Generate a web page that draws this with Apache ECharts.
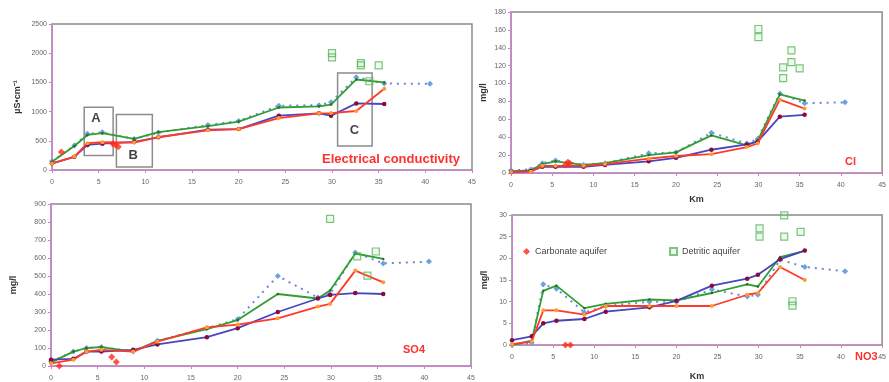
<!DOCTYPE html>
<html>
<head>
<meta charset="utf-8">
<script src="https://cdn.jsdelivr.net/npm/echarts@6/dist/echarts.min.js"></script>
<style>html,body{margin:0;padding:0;background:#fff}#c{width:889px;height:382px}</style>
</head>
<body>
<div id="c"></div>
<script>
// Station distances (km)
var stations = [0, 2.4, 3.8, 5.4, 8.8, 11.4, 16.7, 20, 24.3, 28.6, 29.9, 32.6, 35.6];
var stationsDotted = [0, 2.4, 3.8, 5.4, 8.8, 11.4, 16.7, 20, 24.3, 28.6, 29.9, 32.6, 35.6, 40.5];
var xTicks = [0, 5, 10, 15, 20, 25, 30, 35, 40, 45];

// Electrical conductivity (uS/cm)
var ecBlue   = [115, 225, 430, 450, 480, 560, 690, 700, 930, 970, 930, 1140, 1130];
var ecRed    = [110, 230, 460, 475, 470, 565, 680, 700, 890, 970, 975, 1010, 1390];
var ecGreen  = [140, 410, 600, 630, 534, 650, 750, 830, 1070, 1090, 1120, 1550, 1500];
var ecDotted = [150, 420, 620, 645, 530, 640, 770, 840, 1100, 1110, 1160, 1590, 1480, 1475];
var ecCarb   = [[1.0, 310], [6.5, 450], [6.8, 430], [7.1, 400]];
var ecDetr   = [[30.0, 2000], [30.0, 1930], [33.1, 1830], [33.1, 1790], [35.0, 1790], [34.0, 1520]];
var ecBoxes  = [['A', 3.45, 250, 6.55, 1075], ['B', 6.9, 50, 10.75, 950], ['C', 30.6, 410, 34.3, 1660]];
var ecBoxLabels = [['A', 4.7, 890], ['B', 8.7, 250], ['C', 32.4, 680]];

// Cl (mg/l)
var clBlue   = [1, 2, 7, 7, 7, 9, 13, 17, 26, 32, 35, 63, 65];
var clRed    = [1, 1.5, 8, 8, 8, 10, 16, 19, 21, 29, 33, 82, 72];
var clGreen  = [2, 3, 10, 13, 9, 11, 20, 23, 42, 31, 36, 88, 81];
var clDotted = [3, 4, 11, 14, 9, 11, 22, 23, 45, 33, 38, 89, 78, 79];
var clCarb   = [[6.6, 9], [6.9, 12], [7.1, 11]];
var clDetr   = [[30.0, 161], [30.0, 152], [33.0, 118], [33.0, 106], [34.0, 137], [34.0, 124], [35.0, 117]];

// SO4 (mg/l)
var soBlue   = [35, 40, 80, 80, 90, 120, 160, 210, 300, 375, 395, 405, 400];
var soRed    = [15, 35, 80, 90, 80, 135, 215, 230, 265, 330, 345, 530, 465];
var soGreen  = [20, 80, 100, 105, 80, 140, 205, 255, 400, 375, 420, 625, 595];
var soDotted = [25, 80, 100, 105, 80, 140, 210, 260, 500, 380, 400, 630, 570, 580];
var soCarb   = [[0.9, 0], [6.5, 50], [7.0, 22]];
var soDetr   = [[29.9, 817], [32.8, 609], [33.9, 502], [34.8, 636]];

// NO3 (mg/l)
var noBlue   = [1.1, 2, 5, 5.6, 6, 7.7, 8.7, 10.2, 13.7, 15.3, 16.2, 19.8, 21.8];
var noRed    = [0.2, 0.8, 8, 8, 7, 9, 9, 9, 9, 11.6, 12, 18, 15];
var noGreen  = [0, 1, 12.5, 13.7, 8.5, 9.5, 10.5, 10.3, 12, 14, 13.5, 20.3, 21.7];
var noDotted = [0, 0.5, 14, 13, 7.5, 9, 10, 10, 12.8, 11.2, 11.6, 19.7, 18, 17];
var noCarb   = [[6.5, 0], [7.1, 0]];
var noDetr   = [[30.1, 26.9], [30.1, 25], [33.1, 29.9], [33.1, 25], [35.1, 26.1], [34.1, 10.1], [34.1, 9.1]];

function pairs(xs, ys) { return ys.map(function (v, i) { return [xs[i], v]; }); }

var chart = echarts.init(document.getElementById('c'), null, {renderer: 'canvas'});

var grids = [
  {left: 52, top: 24, width: 420, height: 146},
  {left: 511, top: 12, width: 377, height: 161},
  {left: 51, top: 204, width: 420, height: 163},
  {left: 512, top: 215, width: 377, height: 152}
];
grids.forEach(function (g) { g.show = true; g.borderColor = '#8a8a8a'; g.borderWidth = 1.5; g.backgroundColor = 'transparent'; });

var pink = '#d77ad7';
var labelStyle = {fontSize: 7, color: '#666', fontFamily: 'Liberation Sans, Arial', formatter: function (v) { return String(v); }};
function xAx(i, name, gap) {
  return {
    type: 'value', gridIndex: i, min: xTicks[0], max: xTicks[xTicks.length - 1], interval: 5,
    axisLine: {show: true, lineStyle: {color: pink, width: 1}},
    axisTick: {show: true, length: 3, lineStyle: {color: pink}},
    axisLabel: Object.assign({margin: 9, showMaxLabel: true}, labelStyle),
    splitLine: {show: false},
    name: name || '', nameLocation: 'middle', nameGap: gap || 20,
    nameTextStyle: {fontSize: 9, fontWeight: 'bold', color: '#333', fontFamily: 'Liberation Sans, Arial'}
  };
}
function yAx(i, max, interval, name, gap) {
  return {
    type: 'value', gridIndex: i, min: 0, max: max, interval: interval,
    axisLine: {show: true, lineStyle: {color: pink, width: 1}},
    axisTick: {show: true, length: 3, lineStyle: {color: pink}},
    axisLabel: Object.assign({margin: 5}, labelStyle),
    splitLine: {show: false},
    name: name, nameLocation: 'middle', nameGap: gap, nameRotate: 90,
    nameTextStyle: {fontSize: 9, fontWeight: 'bold', color: '#333', fontFamily: 'Liberation Sans, Arial'}
  };
}

var cBlue = '#4646c0', cMaroon = '#8a0a3a', cRed = '#ff3a2a', cOrange = '#ff9a30',
    cGreen = '#2f9f2f', cDot = '#6f86d6', cDiam = '#6aa2e0', cDetr = '#5cb85c', cCarb = '#ff2a1a';

var series = [];
function addPanel(i, blue, red, green, dotted, carb, detr) {
  series.push({type: 'line', xAxisIndex: i, yAxisIndex: i, data: pairs(stationsDotted, dotted), z: 2,
    lineStyle: {color: cDot, width: 2, type: [2, 5]}, symbol: 'diamond', symbolSize: 6,
    itemStyle: {color: cDiam}, silent: true});
  series.push({type: 'line', xAxisIndex: i, yAxisIndex: i, data: pairs(stations, green), z: 3,
    lineStyle: {color: cGreen, width: 1.8}, symbol: 'circle', symbolSize: 2.5,
    itemStyle: {color: '#2a6a2a'}, silent: true});
  series.push({type: 'line', xAxisIndex: i, yAxisIndex: i, data: pairs(stations, blue), z: 4,
    lineStyle: {color: cBlue, width: 1.8}, symbol: 'circle', symbolSize: 4.5,
    itemStyle: {color: cMaroon}, silent: true});
  series.push({type: 'line', xAxisIndex: i, yAxisIndex: i, data: pairs(stations, red), z: 5,
    lineStyle: {color: cRed, width: 1.8}, symbol: 'circle', symbolSize: 4,
    itemStyle: {color: cOrange}, silent: true});
  series.push({name: 'Carbonate aquifer', type: 'scatter', xAxisIndex: i, yAxisIndex: i, data: carb, z: 6,
    symbol: 'diamond', symbolSize: 7, itemStyle: {color: cCarb}, silent: true});
  series.push({name: 'Detritic aquifer', type: 'scatter', xAxisIndex: i, yAxisIndex: i, data: detr, z: 6,
    symbol: 'rect', symbolSize: 7, itemStyle: {color: 'rgba(120,200,120,0.15)', borderColor: cDetr, borderWidth: 1.2}, silent: true});
}
addPanel(0, ecBlue, ecRed, ecGreen, ecDotted, ecCarb, ecDetr);
addPanel(1, clBlue, clRed, clGreen, clDotted, clCarb, clDetr);
addPanel(2, soBlue, soRed, soGreen, soDotted, soCarb, soDetr);
addPanel(3, noBlue, noRed, noGreen, noDotted, noCarb, noDetr);

// Boxes A, B, C on the conductivity panel
series.push({type: 'line', xAxisIndex: 0, yAxisIndex: 0, data: [], silent: true,
  markArea: {silent: true,
    itemStyle: {color: 'rgba(0,0,0,0)', borderColor: '#8c8c8c', borderWidth: 1.5},
    label: {show: false},
    data: ecBoxes.map(function (b) { return [{coord: [b[1], b[2]]}, {coord: [b[3], b[4]]}]; })
  }});
series.push({type: 'scatter', xAxisIndex: 0, yAxisIndex: 0, symbolSize: 0, silent: true, z: 7,
  data: ecBoxLabels.map(function (b) { return {value: [b[1], b[2]], name: b[0]}; }),
  label: {show: true, position: 'inside', formatter: '{b}', fontSize: 13, fontWeight: 'bold', color: '#111', fontFamily: 'Liberation Sans, Arial'}
});

var tStyle = {fontSize: 13, fontWeight: 'bold', color: '#ff3030', fontFamily: 'Liberation Sans, Arial'};
var tSmall = {fontSize: 11, fontWeight: 'bold', color: '#ff3030', fontFamily: 'Liberation Sans, Arial'};
var option = {
  animation: false,
  backgroundColor: '#fff',
  grid: grids,
  xAxis: [xAx(0), xAx(1, 'Km', 22), xAx(2), xAx(3, 'Km', 27)],
  yAxis: [yAx(0, 2500, 500, 'µS•cm⁻¹', 30), yAx(1, 180, 20, 'mg/l', 23), yAx(2, 900, 100, 'mg/l', 33), yAx(3, 30, 5, 'mg/l', 23)],
  title: [
    {text: 'Electrical conductivity', left: 317, top: 148, textStyle: tStyle},
    {text: 'Cl', left: 840, top: 151, textStyle: tSmall},
    {text: 'SO4', left: 398, top: 339, textStyle: tSmall},
    {text: 'NO3', left: 850, top: 346, textStyle: tSmall}
  ],
  legend: {
    left: 518, top: 242, itemGap: 62, itemWidth: 7, itemHeight: 7,
    data: [{name: 'Carbonate aquifer', icon: 'diamond'}, {name: 'Detritic aquifer', icon: 'rect'}],
    textStyle: {fontSize: 9, color: '#444', fontFamily: 'Liberation Sans, Arial'},
    selectedMode: false
  },
  series: series
};
chart.setOption(option);
</script>
</body>
</html>
